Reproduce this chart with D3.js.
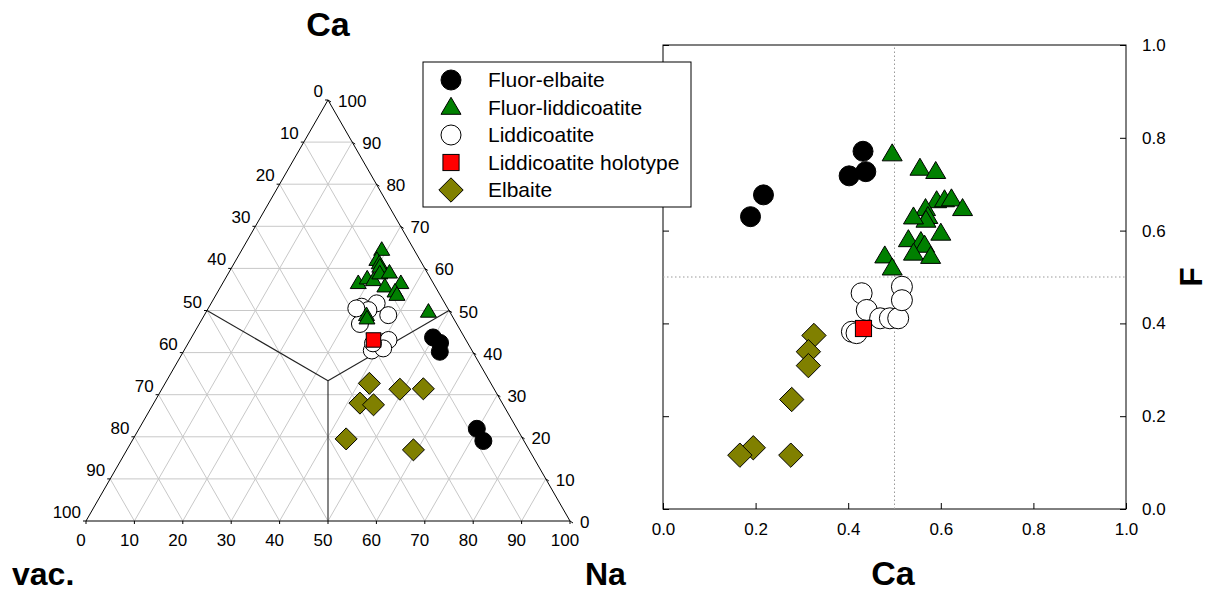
<!DOCTYPE html>
<html><head><meta charset="utf-8">
<script src="https://cdn.jsdelivr.net/npm/d3@7"></script>
<style>body{margin:0;background:#fff}text{font-family:Arial,"Liberation Sans",sans-serif}</style>
</head><body><svg id="c" width="1216" height="596"></svg>
<script>
// ---------- DATA ----------
const groups = ["Fluor-elbaite","Fluor-liddicoatite","Liddicoatite","Liddicoatite holotype","Elbaite"];
const groupFill = ["#000000","#008000","#ffffff","#ff0000","#808000"];
const groupShape = ["circle","triangle","circle","square","diamond"];

// Ternary (Ca %, Na %) ; vac = 100 - Ca - Na
const ternFluorElbaiteCa = [43.6,42.3,40.2,21.9,19.0];
const ternFluorElbaiteNa = [49.9,52.0,53.0,69.8,72.6];
const ternFluorLiddCa = [64.4,62.0,61.2,60.4,56.5,57.6,57.2,58.8,59.0,55.7,56.5,54.5,53.7,48.9,48.1,49.7];
const ternFluorLiddNa = [28.9,29.1,30.0,30.5,28.0,29.3,30.8,31.3,33.2,33.9,36.8,36.6,37.4,33.5,34.0,45.9];
const ternLiddCa = [50.9,51.7,48.9,46.8,50.1,50.5,40.5,42.0,42.6,43.0,41.0,42.2];
const ternLiddNa = [31.5,34.2,38.0,33.2,33.3,30.6,38.8,39.7,40.5,41.0,40.9,38.2];
const ternHoloCa = [43.0];
const ternHoloNa = [37.9];
const ternElbaiteCa = [32.7,31.3,31.4,28.0,27.6,19.5,16.9];
const ternElbaiteNa = [42.2,49.2,54.0,42.6,45.6,44.0,59.2];

// Binary plot (Ca apfu, F apfu)
const xyFluorElbaiteCa = [0.432,0.438,0.402,0.217,0.189];
const xyFluorElbaiteF  = [0.771,0.727,0.718,0.677,0.630];
const xyFluorLiddCa = [0.495,0.555,0.589,0.591,0.608,0.623,0.647,0.567,0.572,0.568,0.541,0.600,0.530,0.557,0.565,0.541,0.578,0.479,0.495];
const xyFluorLiddF  = [0.765,0.734,0.727,0.664,0.666,0.668,0.647,0.647,0.630,0.622,0.629,0.594,0.580,0.576,0.568,0.551,0.544,0.545,0.519];
const xyLiddCa = [0.429,0.440,0.469,0.490,0.508,0.516,0.516,0.408,0.418];
const xyLiddF  = [0.465,0.429,0.411,0.411,0.411,0.479,0.450,0.382,0.379];
const xyHoloCa = [0.433];
const xyHoloF  = [0.389];
const xyElbaiteCa = [0.326,0.314,0.314,0.278,0.195,0.166,0.276];
const xyElbaiteF  = [0.374,0.339,0.309,0.236,0.132,0.116,0.116];

const ternTicks = [0,10,20,30,40,50,60,70,80,90,100];
const xyTicks = [0,0.2,0.4,0.6,0.8,1.0];

const ternSets = [[ternFluorElbaiteCa,ternFluorElbaiteNa],[ternFluorLiddCa,ternFluorLiddNa],[ternLiddCa,ternLiddNa],[ternHoloCa,ternHoloNa],[ternElbaiteCa,ternElbaiteNa]];
const xySets = [[xyFluorElbaiteCa,xyFluorElbaiteF],[xyFluorLiddCa,xyFluorLiddF],[xyLiddCa,xyLiddF],[xyHoloCa,xyHoloF],[xyElbaiteCa,xyElbaiteF]];

// ---------- DRAW ----------
const svg = d3.select("#c");
const font = 'Arial,"Liberation Sans",sans-serif';

function drawMarker(g, shape, fill, x, y, s) {
  if (shape==="circle") g.append("circle").attr("cx",x).attr("cy",y).attr("r",s/2).attr("fill",fill).attr("stroke","#000").attr("stroke-width",1);
  else if (shape==="triangle") {
    const h = s*0.85;
    g.append("path").attr("d",`M${x},${y-h*0.6}L${x+s/2},${y+h*0.4}L${x-s/2},${y+h*0.4}Z`).attr("fill",fill).attr("stroke","#000").attr("stroke-width",1);
  } else if (shape==="square") {
    const a = s*0.85;
    g.append("rect").attr("x",x-a/2).attr("y",y-a/2).attr("width",a).attr("height",a).attr("fill",fill).attr("stroke","#000").attr("stroke-width",1);
  } else if (shape==="diamond") {
    const r = s*0.58;
    g.append("path").attr("d",`M${x},${y-r}L${x+r},${y}L${x},${y+r}L${x-r},${y}Z`).attr("fill",fill).attr("stroke","#000").attr("stroke-width",1);
  }
}

// ===== Ternary =====
const tL = 86, tR = 570, tB = 521, tT = 100;
const caY = d3.scaleLinear().domain([0,100]).range([tB,tT]);
const posX = d3.scaleLinear().domain([0,100]).range([tL,tR]);
const P = (ca,na) => [posX(na + ca/2), caY(ca)];

const tg = svg.append("g");
const grid = tg.append("g").attr("stroke","#c8c8c8").attr("stroke-width",1).attr("fill","none");
for (let k=10;k<100;k+=10){
  let a=P(k,0), b=P(k,100-k); grid.append("line").attr("x1",a[0]).attr("y1",a[1]).attr("x2",b[0]).attr("y2",b[1]);
  a=P(0,k); b=P(100-k,k); grid.append("line").attr("x1",a[0]).attr("y1",a[1]).attr("x2",b[0]).attr("y2",b[1]);
  a=P(0,100-k); b=P(100-k,0); grid.append("line").attr("x1",a[0]).attr("y1",a[1]).attr("x2",b[0]).attr("y2",b[1]);
}
const V1=P(100,0), V2=P(0,0), V3=P(0,100);
tg.append("path").attr("d",`M${V1}L${V2}L${V3}Z`).attr("fill","none").attr("stroke","#000").attr("stroke-width",1);
const C=P(100/3,100/3);
[[50,0],[50,50],[0,50]].forEach(([ca,na])=>{const m=P(ca,na);
  tg.append("line").attr("x1",C[0]).attr("y1",C[1]).attr("x2",m[0]).attr("y2",m[1]).attr("stroke","#222").attr("stroke-width",1.1);});
const tl = tg.append("g").attr("font-size",17).attr("fill","#000");
ternTicks.forEach(k=>{
  let p=P(0,k);
  tg.append("line").attr("x1",p[0]).attr("y1",p[1]).attr("x2",p[0]).attr("y2",p[1]+3).attr("stroke","#000");
  tl.append("text").attr("x",p[0]-5).attr("y",p[1]+25).attr("text-anchor","middle").text(k);
  p=P(100-k,0);
  tg.append("line").attr("x1",p[0]).attr("y1",p[1]).attr("x2",p[0]-3).attr("y2",p[1]).attr("stroke","#000");
  tl.append("text").attr("x",p[0]-5).attr("y",p[1]-3).attr("text-anchor","end").text(k);
  p=P(k,100-k);
  tg.append("line").attr("x1",p[0]).attr("y1",p[1]).attr("x2",p[0]+3).attr("y2",p[1]+2).attr("stroke","#000");
  tl.append("text").attr("x",p[0]+10).attr("y",p[1]+7).attr("text-anchor","start").text(k);
});
svg.append("text").attr("x",328).attr("y",36).attr("text-anchor","middle").attr("font-size",34).attr("font-weight","bold").text("Ca");
svg.append("text").attr("x",12).attr("y",585).attr("font-size",32).attr("font-weight","bold").text("vac.");
svg.append("text").attr("x",585).attr("y",585).attr("font-size",32).attr("font-weight","bold").text("Na");

const ternSizes=[17,16,17,17,19];
const order=[4,2,1,3,0];
const tp = svg.append("g");
order.forEach(i=>{
  const [ca,na]=ternSets[i];
  ca.forEach((c,j)=>{const p=P(c,na[j]); drawMarker(tp,groupShape[i],groupFill[i],p[0],p[1],ternSizes[i]);});
});

// ===== XY plot =====
const x = d3.scaleLinear().domain([0,1]).range([663,1126]);
const y = d3.scaleLinear().domain([0,1]).range([509,45]);
const xg = svg.append("g");
xg.append("rect").attr("x",x(0)).attr("y",y(1)).attr("width",x(1)-x(0)).attr("height",y(0)-y(1)).attr("fill","none").attr("stroke","#000").attr("stroke-width",1);
xg.append("line").attr("x1",x(0.5)).attr("x2",x(0.5)).attr("y1",y(0)).attr("y2",y(1)).attr("stroke","#999").attr("stroke-dasharray","1.5,2.5");
xg.append("line").attr("x1",x(0)).attr("x2",x(1)).attr("y1",y(0.5)).attr("y2",y(0.5)).attr("stroke","#999").attr("stroke-dasharray","1.5,2.5");
const bAx = d3.axisBottom(x).tickValues(xyTicks).tickSize(-6).tickPadding(14).tickFormat(d3.format(".1f"));
xg.append("g").attr("transform",`translate(0,${y(0)})`).call(bAx).call(g=>{g.select(".domain").remove();g.selectAll("text").attr("font-size",17).attr("font-family",font);});
const lAx = d3.axisLeft(y).tickValues(xyTicks).tickSize(-6).tickFormat("");
xg.append("g").attr("transform",`translate(${x(0)},0)`).call(lAx).call(g=>g.select(".domain").remove());
const rAx = d3.axisRight(y).tickValues(xyTicks).tickSize(-6).tickPadding(16).tickFormat(d3.format(".1f"));
xg.append("g").attr("transform",`translate(${x(1)},0)`).call(rAx).call(g=>{g.select(".domain").remove();g.selectAll("text").attr("font-size",17).attr("font-family",font);});
svg.append("text").attr("x",893).attr("y",585).attr("text-anchor","middle").attr("font-size",34).attr("font-weight","bold").text("Ca");
svg.append("text").attr("transform","translate(1202,277) rotate(-90)").attr("text-anchor","middle").attr("font-size",32).attr("font-weight","bold").text("F");

const xySizes=[20,20,21,19,21];
const xp = svg.append("g");
order.forEach(i=>{
  const [cx,fy]=xySets[i];
  cx.forEach((c,j)=>drawMarker(xp,groupShape[i],groupFill[i],x(c),y(fy[j]),xySizes[i]));
});

// ===== Legend =====
const lg = svg.append("g");
lg.append("rect").attr("x",423).attr("y",62).attr("width",268).attr("height",145).attr("fill","#fff").attr("stroke","#000").attr("stroke-width",1);
const legY = d3.scalePoint().domain(groups).range([80,190]);
groups.forEach((gname,i)=>{
  drawMarker(lg,groupShape[i],groupFill[i],451,legY(gname),[20,20,20,19,21][i]);
  lg.append("text").attr("x",488).attr("y",legY(gname)+7).attr("font-size",21).text(gname);
});
</script></body></html>
